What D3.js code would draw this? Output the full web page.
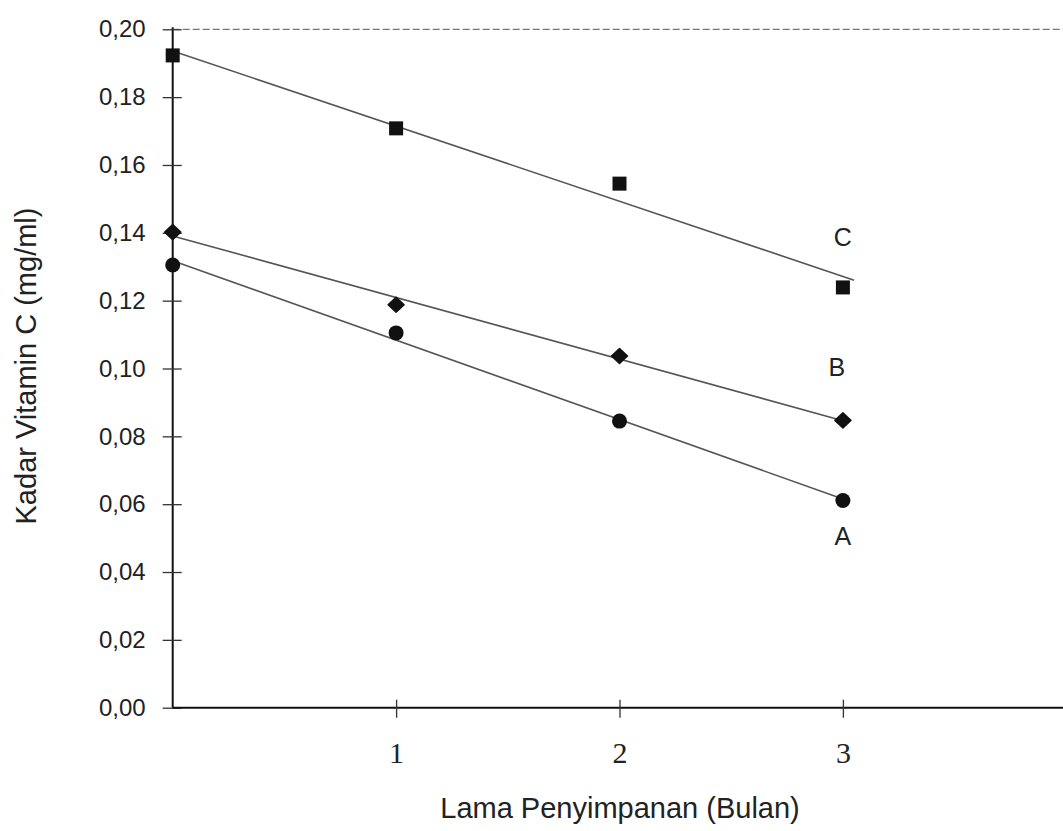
<!DOCTYPE html>
<html lang="id">

<head>
    <meta charset="utf-8">
    <title>Kadar Vitamin C</title>
    <script src="https://d3js.org/d3.v7.min.js"></script>
    <style>
        body {
            margin: 0;
            padding: 0;
            overflow: hidden;
            background: #fff;
        }
    </style>
</head>

<body>

    <svg id="chart"></svg>

    <script>
        // months of storage
        const months = [0, 1, 2, 3];
        // vitamin C content (mg/ml) per sample
        const seriesA = [0.1305, 0.1105, 0.0845, 0.0611];
        const seriesB = [0.1402, 0.1188, 0.1037, 0.0847];
        const seriesC = [0.1923, 0.1708, 0.1545, 0.1239];
        const seriesNames = ["A", "B", "C"];
        const yTicks = [0, 0.02, 0.04, 0.06, 0.08, 0.10, 0.12, 0.14, 0.16, 0.18, 0.20];
        const xTicks = [1, 2, 3];

        const width = 1063;
        const height = 831;

        const svg = d3.select("#chart")
            .attr("width", width)
            .attr("height", height);

        const x = d3.scaleLinear().domain([0, 4]).range([172.7, 172.7 + 4 * 223.4]);
        const y = d3.scaleLinear().domain([0, 0.20]).range([707.7, 29.3]);

        const comma = d3.formatLocale({ decimal: ",", thousands: ".", grouping: [3], currency: ["Rp", ""] });
        const fmt = comma.format(".2f");

        // top frame line (dashed, light)
        svg.append("line")
            .attr("x1", x(0)).attr("x2", width)
            .attr("y1", y(0.20)).attr("y2", y(0.20))
            .attr("stroke", "#777")
            .attr("stroke-width", 1.3)
            .attr("stroke-dasharray", "7,3");

        // y axis
        const yAxis = svg.append("g")
            .attr("transform", `translate(${x(0)},0)`)
            .call(d3.axisLeft(y).tickValues(yTicks).tickFormat(fmt).tickSize(10).tickSizeOuter(0));
        yAxis.select(".domain").attr("stroke", "#111").attr("stroke-width", 2)
            .attr("d", `M0,${y(0.20) - 2}V${y(0)}`);
        yAxis.selectAll(".tick line").attr("x2", -10).attr("x1", 9).attr("stroke", "#333").attr("stroke-width", 1.3);
        yAxis.selectAll(".tick text")
            .attr("x", -27)
            .attr("font-family", "'Liberation Sans', Arial, sans-serif")
            .attr("font-size", 24)
            .attr("fill", "#222");

        // x axis
        const xAxis = svg.append("g")
            .attr("transform", `translate(0,${y(0)})`)
            .call(d3.axisBottom(x).tickValues(xTicks).tickFormat(d3.format("d")).tickSize(9).tickSizeOuter(0));
        xAxis.select(".domain").attr("stroke", "#111").attr("stroke-width", 2)
            .attr("d", `M${x(0)},0H${width}`);
        xAxis.selectAll(".tick line").attr("y1", -8).attr("y2", 10).attr("stroke", "#333").attr("stroke-width", 1.3);
        xAxis.selectAll(".tick text")
            .attr("y", 34)
            .attr("font-family", "'Liberation Serif', 'Times New Roman', serif")
            .attr("font-size", 30)
            .attr("fill", "#222");
        svg.selectAll(".domain").attr("fill", "none");

        // axis titles
        svg.append("text")
            .attr("x", 620).attr("y", 818)
            .attr("text-anchor", "middle")
            .attr("font-family", "'Liberation Sans', Arial, sans-serif")
            .attr("font-size", 29)
            .attr("fill", "#222")
            .text("Lama Penyimpanan (Bulan)");

        svg.append("text")
            .attr("transform", "translate(36,366) rotate(-90)")
            .attr("text-anchor", "middle")
            .attr("font-family", "'Liberation Sans', Arial, sans-serif")
            .attr("font-size", 29)
            .attr("fill", "#222")
            .text("Kadar Vitamin C (mg/ml)");

        // least squares trend line
        function fit(xs, ys) {
            const mx = d3.mean(xs), my = d3.mean(ys);
            const sxy = d3.sum(xs, (v, i) => (v - mx) * (ys[i] - my));
            const sxx = d3.sum(xs, v => (v - mx) * (v - mx));
            const b = sxy / sxx;
            return { a: my - b * mx, b: b };
        }

        const series = [
            { name: seriesNames[0], values: seriesA, shape: "circle", trendEnd: 3, labelDy: 45 },
            { name: seriesNames[1], values: seriesB, shape: "diamond", trendEnd: 3, labelDy: -44 },
            { name: seriesNames[2], values: seriesC, shape: "square", trendEnd: 3.05, labelDy: -41 }
        ];

        const lineGen = d3.line().x(d => x(d[0])).y(d => y(d[1]));

        series.forEach(s => {
            const f = fit(months, s.values);
            const pts = [[0, f.a], [s.trendEnd, f.a + f.b * s.trendEnd]];
            svg.append("path")
                .attr("d", lineGen(pts))
                .attr("fill", "none")
                .attr("stroke", "#555")
                .attr("stroke-width", 1.6);
        });

        series.forEach(s => {
            const g = svg.append("g");
            const pts = months.map((m, i) => [m, s.values[i]]);
            if (s.shape === "square") {
                g.selectAll("rect").data(pts).join("rect")
                    .attr("x", d => x(d[0]) - 7).attr("y", d => y(d[1]) - 7)
                    .attr("width", 14).attr("height", 14)
                    .attr("fill", "#111");
            } else if (s.shape === "diamond") {
                g.selectAll("path").data(pts).join("path")
                    .attr("transform", d => `translate(${x(d[0])},${y(d[1])})`)
                    .attr("d", "M0,-7.5L8,0L0,7.5L-8,0Z")
                    .attr("stroke", "#111").attr("stroke-width", 1.5).attr("stroke-linejoin", "round")
                    .attr("fill", "#111");
            } else {
                g.selectAll("circle").data(pts).join("circle")
                    .attr("cx", d => x(d[0])).attr("cy", d => y(d[1]))
                    .attr("r", 7.5)
                    .attr("fill", "#111");
            }

            svg.append("text")
                .attr("x", x(3) - (s.name === "B" ? 6 : 0))
                .attr("y", y(s.values[3]) + s.labelDy)
                .attr("text-anchor", "middle")
                .attr("font-family", "'Liberation Sans', Arial, sans-serif")
                .attr("font-size", 25)
                .attr("fill", "#222")
                .text(s.name);
        });
    </script>
</body>

</html>
